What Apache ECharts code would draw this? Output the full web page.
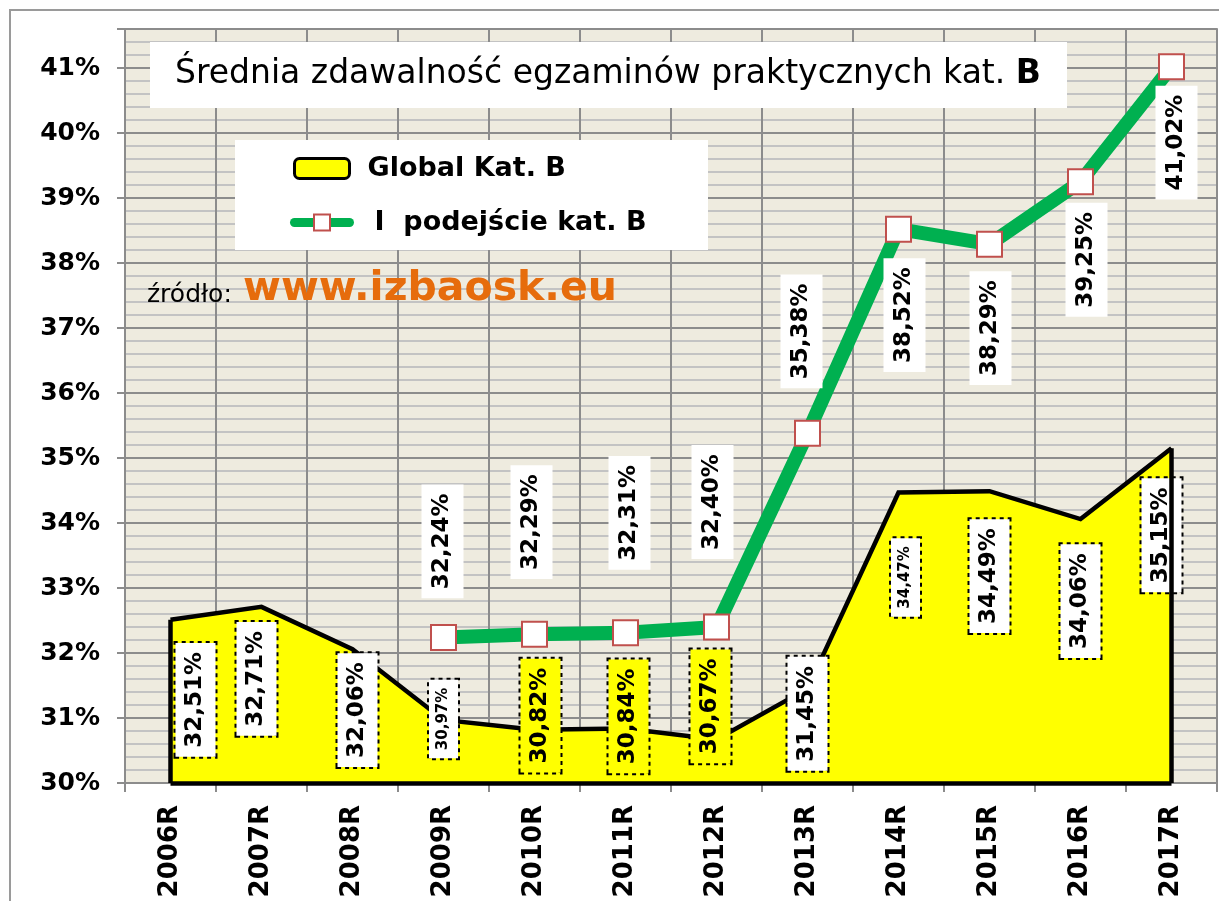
<!DOCTYPE html>
<html>
<head>
<meta charset="utf-8">
<title>Średnia zdawalność egzaminów praktycznych kat. B</title>
<script src="https://cdn.jsdelivr.net/npm/echarts@6/dist/echarts.min.js"></script>
<style>
  html, body { margin: 0; padding: 0; background: #fff; }
  #chart { width: 1219px; height: 901px; }
</style>
</head>
<body>
<div id="chart"></div>
<script>
// dane
const categories = ['2006R', '2007R', '2008R', '2009R', '2010R', '2011R', '2012R', '2013R', '2014R', '2015R', '2016R', '2017R']
const globalKatB = [32.51, 32.71, 32.06, 30.97, 30.82, 30.84, 30.67, 31.45, 34.47, 34.49, 34.06, 35.15]
const pierwszePodejscie = [null, null, null, 32.24, 32.29, 32.31, 32.40, 35.38, 38.52, 38.29, 39.25, 41.02]
const yMin = 30, yMax = 41.6, yStep = 1, yMinorStep = 0.2

// przesunięcia etykiet na ekranie [dx, dy] (układ, nie dane)
const globalLabelShift = [[25, 80], [-5, 72], [5, 61], [0, -1], [6, -14], [3, -12], [-6, -33], [0, 25], [7, 85], [0, 85], [0, 82], [-10, 87]]
const lineLabelShift = [null, null, null, [-1, -96], [-3, -112], [4, -120], [-4, -125], [-6, -102], [6, 86], [1, 84], [6, 78], [5, 76]]
const smallLabels = [3, 8]
const yellowLabels = [4, 5, 6]

const FONT = 'DejaVu Sans'
const fmt = v => v.toFixed(2).replace('.', ',') + '%'
// etykiety są obrócone o 90°, więc offset liczy się w układzie obróconym
const rotOffset = d => [-d[1], d[0]]

const chart = echarts.init(document.getElementById('chart'))

const globalData = globalKatB.map((v, i) => {
    const small = smallLabels.includes(i)
    return {
        value: v,
        label: {
            offset: rotOffset(globalLabelShift[i]),
            fontSize: small ? 15 : 23,
            lineHeight: small ? 19 : 28,
            padding: small ? [5, 8] : [6, 9],
            backgroundColor: yellowLabels.includes(i) ? '#ffff00' : '#fff'
        }
    }
})

const lineData = pierwszePodejscie.map((v, i) => v == null ? '-' : {
    value: v,
    label: { offset: rotOffset(lineLabelShift[i]) }
})

const last = categories.length - 1

const option = {
    animation: false,
    grid: {
        left: 125, top: 29, right: 2, bottom: 118,
        show: true, backgroundColor: '#eeebdf', borderColor: '#a6a6a6', borderWidth: 2,
        outerBoundsMode: 'none'
    },
    legend: {
        orient: 'vertical', left: 290, top: 155, padding: 0,
        itemWidth: 55, itemHeight: 20, itemGap: 27,
        selectedMode: false,
        textStyle: { fontFamily: FONT, fontWeight: 'bold', fontSize: 27, color: '#000', padding: [0, 0, 0, 13] },
        data: [
            { name: 'Global Kat. B', icon: 'roundRect', itemStyle: { color: '#ffff00', borderColor: '#000', borderWidth: 3 } },
            { name: 'I  podejście kat. B', textStyle: { padding: [0, 0, 0, 20] },
              lineStyle: { width: 9, cap: 'round', color: '#00b050' },
              itemStyle: { color: '#fff', borderColor: '#c0504d', borderWidth: 2 } }
        ]
    },
    graphic: [
        { type: 'rect', z: 0, shape: { x: 10, y: 10, width: 1240, height: 920 },
          style: { fill: 'none', stroke: '#9a9a9a', lineWidth: 2 } },
        { type: 'rect', z: 3, shape: { x: 150, y: 42, width: 917, height: 66 }, style: { fill: '#fff' } },
        { type: 'rect', z: 3, shape: { x: 235, y: 140, width: 473, height: 110 }, style: { fill: '#fff' } },
        { type: 'text', z: 6, x: 175, y: 74,
          style: {
              text: '{n|Średnia zdawalność egzaminów praktycznych kat. }{b|B}',
              verticalAlign: 'middle', align: 'left',
              rich: {
                  n: { fontFamily: FONT, fontSize: 33, color: '#000' },
                  b: { fontFamily: FONT, fontSize: 33, fontWeight: 'bold', color: '#000' }
              }
          } },
        { type: 'text', z: 6, x: 147, y: 295,
          style: { text: 'źródło:', fontFamily: FONT, fontSize: 25, fill: '#000', verticalAlign: 'middle' } },
        { type: 'text', z: 6, x: 243, y: 289,
          style: { text: 'www.izbaosk.eu', fontFamily: FONT, fontSize: 41, fontWeight: 'bold', fill: '#e66c0c', verticalAlign: 'middle' } }
    ],
    xAxis: {
        type: 'category',
        data: categories,
        boundaryGap: true,
        z: 1,
        axisLine: { lineStyle: { color: '#8c8c8c', width: 2 } },
        axisTick: { show: true, length: 9, interval: 0, lineStyle: { color: '#8c8c8c', width: 2 } },
        axisLabel: { rotate: 90, margin: 22, interval: 0, color: '#000', fontFamily: FONT, fontWeight: 'bold', fontSize: 26 },
        splitLine: { show: true, interval: 0, lineStyle: { color: '#8c8c8c', width: 2 } }
    },
    yAxis: [
        {
            type: 'value', min: yMin, max: yMax, interval: yStep, z: 1,
            axisLine: { show: true, lineStyle: { color: '#8c8c8c', width: 2 } },
            axisTick: { show: true, length: 8, lineStyle: { color: '#8c8c8c', width: 2 } },
            axisLabel: {
                margin: 25, color: '#000', fontFamily: FONT, fontWeight: 'bold', fontSize: 25,
                formatter: v => Number.isInteger(Math.round(v * 1000) / 1000) ? Math.round(v) + '%' : ''
            },
            splitLine: { show: true, lineStyle: { color: '#8c8c8c', width: 2 } }
        },
        {
            type: 'value', min: yMin, max: yMax, interval: yMinorStep, z: 0, position: 'left',
            axisLine: { show: false }, axisTick: { show: false }, axisLabel: { show: false },
            splitLine: { show: true, lineStyle: { color: '#c3c3c3', width: 2 } }
        }
    ],
    series: [
        {
            name: 'Global Kat. B',
            type: 'line',
            z: 2,
            clip: false,
            data: globalData,
            symbol: 'rect',
            symbolSize: 1,
            showSymbol: true,
            itemStyle: { color: 'rgba(0,0,0,0)' },
            lineStyle: { color: '#000', width: 4.5, join: 'miter' },
            areaStyle: { color: '#ffff00', opacity: 1 },
            label: {
                show: true, position: 'inside', rotate: 90, formatter: p => fmt(p.value),
                color: '#000', fontFamily: FONT, fontWeight: 'bold',
                borderColor: '#000', borderWidth: 2, borderType: 'dotted', textBorderWidth: 0
            },
            emphasis: { disabled: true },
            markLine: {
                silent: true,
                symbol: ['none', 'none'],
                label: { show: false },
                lineStyle: { color: '#000', width: 4.5, type: 'solid' },
                data: [
                    [{ coord: [categories[0], yMin] }, { coord: [categories[0], globalKatB[0]] }],
                    [{ coord: [categories[last], yMin] }, { coord: [categories[last], globalKatB[last]] }],
                    [{ coord: [categories[0], yMin] }, { coord: [categories[last], yMin] }]
                ]
            }
        },
        {
            name: 'I  podejście kat. B',
            type: 'line',
            z: 3,
            data: lineData,
            symbol: 'rect',
            symbolSize: 25,
            showSymbol: true,
            itemStyle: { color: '#fff', borderColor: '#c0504d', borderWidth: 2 },
            lineStyle: { color: '#00b050', width: 14, join: 'round' },
            label: {
                show: true, position: 'inside', rotate: 90, formatter: p => fmt(p.value),
                color: '#000', fontFamily: FONT, fontWeight: 'bold', fontSize: 23, lineHeight: 28,
                padding: [7, 9], backgroundColor: '#fff', textBorderWidth: 0
            },
            emphasis: { disabled: true }
        }
    ]
}

chart.setOption(option)
</script>
</body>
</html>
